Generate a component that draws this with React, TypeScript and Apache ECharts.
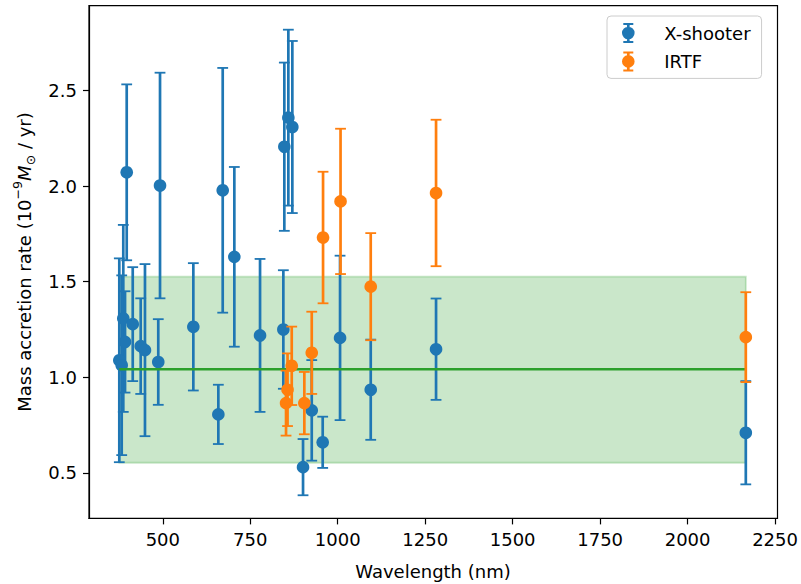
import React, { useEffect, useRef } from "react";
import * as echarts from "echarts";

// X-shooter measurements (wavelength nm, rate 1e-9 Msun/yr, symmetric error)
const xsWave = [375.6, 382.5, 387, 392, 396.8, 414, 436.8, 449, 487, 492, 587.2, 658.7, 671.2, 704.4, 777.9, 844.5, 847.3, 858.8, 870.2, 900.8, 925.7, 957, 1006.6, 1094.3, 1281, 2166.4];
const xsRate = [1.089, 1.063, 1.308, 1.185, 2.072, 1.278, 1.163, 1.142, 1.08, 2.003, 1.264, 0.806, 1.978, 1.63, 1.219, 1.25, 2.206, 2.358, 2.309, 0.53, 0.827, 0.66, 1.206, 0.935, 1.147, 0.71];
const xsErr = [0.533, 0.47, 0.489, 0.265, 0.46, 0.298, 0.25, 0.45, 0.224, 0.59, 0.333, 0.155, 0.64, 0.47, 0.4, 0.31, 0.44, 0.46, 0.45, 0.147, 0.263, 0.134, 0.43, 0.262, 0.265, 0.27];

// IRTF measurements
const irWave = [852.2, 856.5, 868.5, 904.5, 925.7, 958, 1008, 1094.3, 1281, 2166.4];
const irRate = [0.865, 0.935, 1.06, 0.865, 1.128, 1.731, 1.92, 1.474, 1.964, 1.21];
const irErr = [0.17, 0.19, 0.205, 0.163, 0.215, 0.344, 0.38, 0.28, 0.383, 0.235];

// Mean and spread band
const meanRate = 1.042;
const bandLow = 0.553;
const bandHigh = 1.526;
const bandWave = [375.6, 2166.4];

const xTicks = [500, 750, 1000, 1250, 1500, 1750, 2000, 2250];
const yTicks = [0.5, 1.0, 1.5, 2.0, 2.5];

const BLUE = "#1f77b4";
const ORANGE = "#ff7f0e";
const GREEN = "#2ca02c";
const FONT = "DejaVu Sans";

const legendIcon =
  "path://M1.5,0H11.5V2H1.5Z M1.5,18H11.5V20H1.5Z M5.15,0H7.85V20H5.15Z M0.2,10A6.3,6.3 0 1 1 12.8,10A6.3,6.3 0 1 1 0.2,10Z";

function errRender(color: string) {
  return (params: any, api: any) => {
    const x = api.value(0);
    const y = api.value(1);
    const e = api.value(2);
    const top = api.coord([x, y + e]);
    const bot = api.coord([x, y - e]);
    const cw = 5.4;
    return {
      type: "group",
      children: [
        { type: "line", shape: { x1: top[0], y1: top[1], x2: bot[0], y2: bot[1] }, style: { stroke: color, lineWidth: 2.7 } },
        { type: "line", shape: { x1: top[0] - cw, y1: top[1], x2: top[0] + cw, y2: top[1] }, style: { stroke: color, lineWidth: 1.8 } },
        { type: "line", shape: { x1: bot[0] - cw, y1: bot[1], x2: bot[0] + cw, y2: bot[1] }, style: { stroke: color, lineWidth: 1.8 } },
      ],
    };
  };
}

export default function App() {
  const ref = useRef<HTMLDivElement>(null);
  useEffect(() => {
    document.body.style.margin = "0";
    const chart = echarts.init(ref.current!, null, { renderer: "svg" });
    const xsErrData = xsWave.map((w, i) => [w, xsRate[i], xsErr[i]]);
    const xsPts = xsWave.map((w, i) => [w, xsRate[i]]);
    const irErrData = irWave.map((w, i) => [w, irRate[i], irErr[i]]);
    const irPts = irWave.map((w, i) => [w, irRate[i]]);

    const option: any = {
      animation: false,
      backgroundColor: "#ffffff",
      textStyle: { fontFamily: FONT },
      grid: { left: 89, right: 23.5, top: 5.6, bottom: 65.6, show: true, borderColor: "#000", borderWidth: 1.2, backgroundColor: "transparent" },
      xAxis: {
        type: "value",
        min: 289,
        max: 2257,
        splitLine: { show: false },
        axisLine: { show: true, onZero: false, lineStyle: { color: "#000", width: 1.2 } },
        axisTick: { show: true, inside: false, length: 6, lineStyle: { color: "#000", width: 1.2 }, customValues: xTicks },
        axisLabel: { customValues: xTicks, color: "#000", fontSize: 18, fontFamily: FONT, margin: 12, formatter: (v: number) => String(v) },
      },
      yAxis: {
        type: "value",
        min: 0.262,
        max: 2.944,
        splitLine: { show: false },
        axisLine: { show: true, onZero: false, lineStyle: { color: "#000", width: 1.2 } },
        axisTick: { show: true, inside: false, length: 6, lineStyle: { color: "#000", width: 1.2 }, customValues: yTicks },
        axisLabel: { customValues: yTicks, color: "#000", fontSize: 18, fontFamily: FONT, margin: 12, formatter: (v: number) => v.toFixed(1) },
      },
      legend: {
        orient: "vertical",
        left: 607,
        top: 16,
        padding: [7, 11, 7, 15],
        itemWidth: 20,
        itemHeight: 20,
        itemGap: 8.4,
        borderColor: "#cccccc",
        borderWidth: 1,
        borderRadius: 4,
        backgroundColor: "rgba(255,255,255,0.8)",
        textStyle: { fontSize: 18, fontFamily: FONT, color: "#000", padding: [0, 0, 0, 21] },
        data: [
          { name: "X-shooter", icon: legendIcon, itemStyle: { color: BLUE } },
          { name: "IRTF", icon: legendIcon, itemStyle: { color: ORANGE } },
        ],
      },
      graphic: [
        {
          type: "text",
          x: 433,
          y: 571,
          style: { text: "Wavelength (nm)", fontSize: 18, fontFamily: FONT, fill: "#000", align: "center", verticalAlign: "middle" },
        },
        {
          type: "text",
          x: 24,
          y: 262,
          rotation: Math.PI / 2,
          style: {
            text: "Mass accretion rate (10{sup|−9}{it|M}{sub|⊙} / yr)",
            fontSize: 18,
            fontFamily: FONT,
            fill: "#000",
            align: "center",
            verticalAlign: "middle",
            lineHeight: 26,
            rich: {
              sup: { fontSize: 12.6, fontFamily: FONT, fill: "#000", verticalAlign: "top", lineHeight: 12 },
              it: { fontSize: 18, fontFamily: FONT, fontStyle: "italic", fill: "#000", lineHeight: 26 },
              sub: { fontSize: 12.6, fontFamily: FONT, fill: "#000", verticalAlign: "bottom", lineHeight: 14 },
            },
          },
        },
      ],
      series: [
        {
          name: "band",
          type: "custom",
          z: 1,
          silent: true,
          data: [[bandWave[0], bandWave[1], bandLow, bandHigh]],
          encode: { x: [0, 1], y: [2, 3] },
          renderItem: (params: any, api: any) => {
            const p0 = api.coord([api.value(0), api.value(3)]);
            const p1 = api.coord([api.value(1), api.value(2)]);
            return {
              type: "rect",
              shape: { x: p0[0], y: p0[1], width: p1[0] - p0[0], height: p1[1] - p0[1] },
              style: { fill: "rgba(44,160,44,0.25)", stroke: "rgba(44,160,44,0.25)", lineWidth: 1.8 },
            };
          },
        },
        {
          name: "X-shooter",
          type: "custom",
          z: 2,
          data: xsErrData,
          encode: { x: 0, y: 1 },
          renderItem: errRender(BLUE),
          itemStyle: { color: BLUE },
        },
        {
          name: "X-shooter",
          type: "scatter",
          z: 3,
          data: xsPts,
          symbol: "circle",
          symbolSize: 12.6,
          itemStyle: { color: BLUE, opacity: 1 },
        },
        {
          name: "mean",
          type: "line",
          z: 4,
          data: [[bandWave[0], meanRate], [bandWave[1], meanRate]],
          symbol: "none",
          lineStyle: { color: GREEN, width: 2.5 },
          silent: true,
        },
        {
          name: "IRTF",
          type: "custom",
          z: 5,
          data: irErrData,
          encode: { x: 0, y: 1 },
          renderItem: errRender(ORANGE),
          itemStyle: { color: ORANGE },
        },
        {
          name: "IRTF",
          type: "scatter",
          z: 6,
          data: irPts,
          symbol: "circle",
          symbolSize: 12.6,
          itemStyle: { color: ORANGE, opacity: 1 },
        },
      ],
    };
    chart.setOption(option);
    return () => chart.dispose();
  }, []);
  return <div ref={ref} style={{ position: "fixed", left: 0, top: 0, width: 801, height: 584, background: "#fff" }} />;
}
